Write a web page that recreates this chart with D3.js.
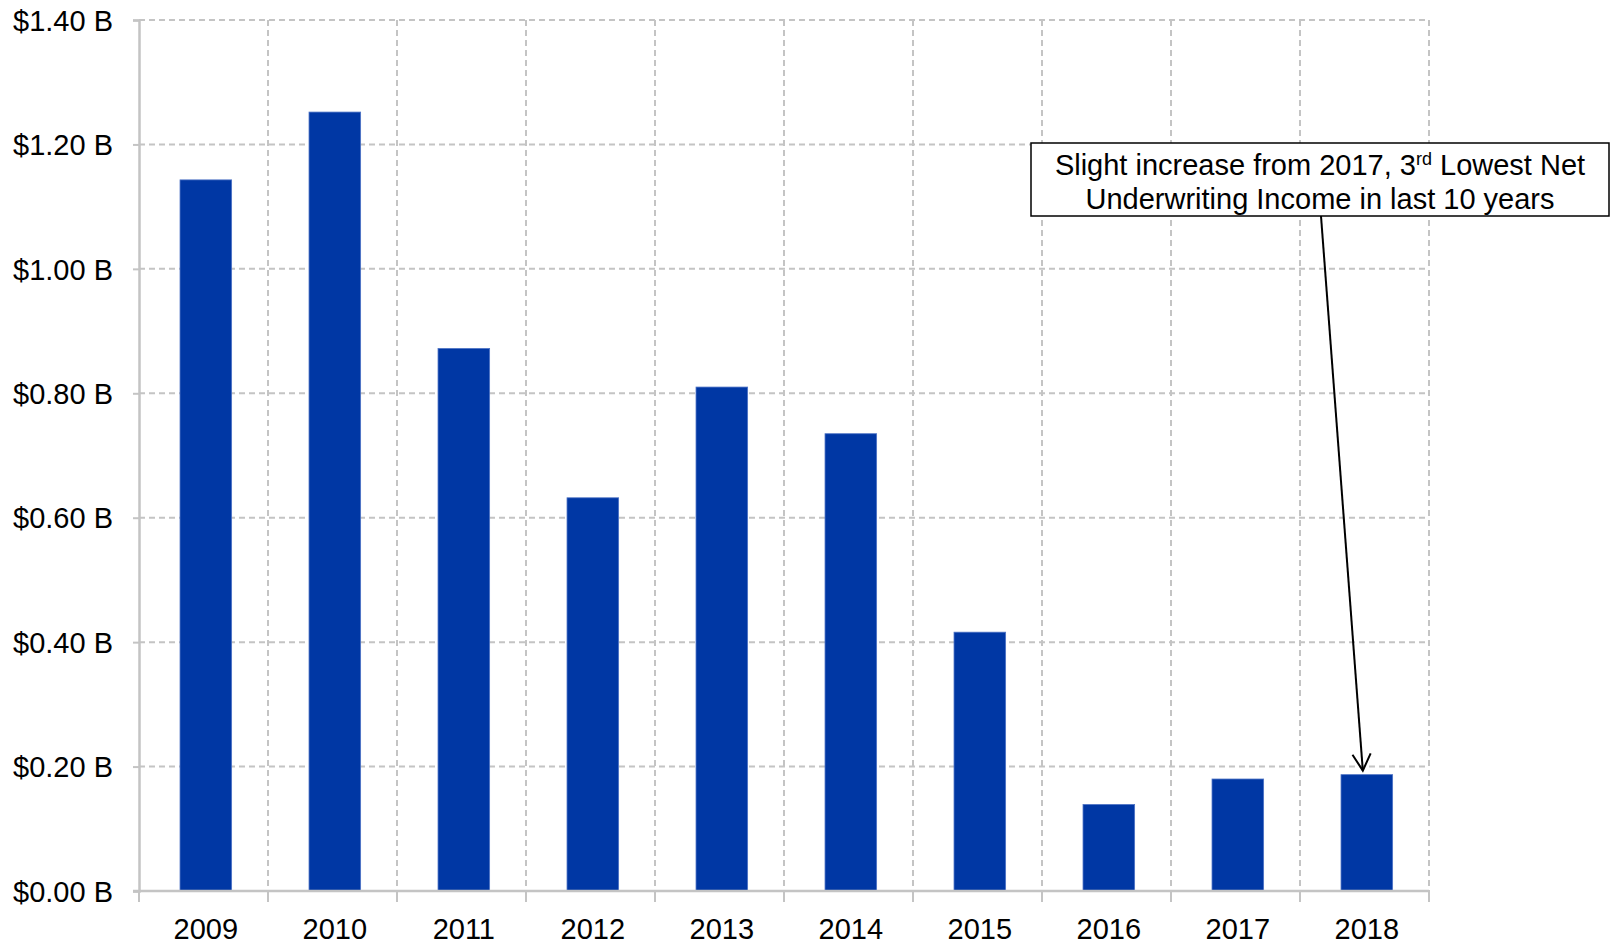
<!DOCTYPE html>
<html>
<head>
<meta charset="utf-8">
<script src="https://cdn.jsdelivr.net/npm/d3@7"></script>
<style>
  body { margin: 0; background: #fff; }
  text { font-family: "Liberation Sans", Arial, sans-serif; fill: #000; }
</style>
</head>
<body>
<svg id="chart"></svg>
<script>
const years = ["2009", "2010", "2011", "2012", "2013", "2014", "2015", "2016", "2017", "2018"];
const income = [1.143, 1.252, 0.872, 0.632, 0.810, 0.735, 0.416, 0.139, 0.180, 0.187];
const yTicks = [0, 0.2, 0.4, 0.6, 0.8, 1.0, 1.2, 1.4];
const noteLines = ["Slight increase from 2017, 3", "Underwriting Income in last 10 years"];

const margin = { top: 20, right: 183, bottom: 54, left: 139 };
const width = 1612 - margin.left - margin.right;
const height = 945 - margin.top - margin.bottom;

const svg = d3.select("#chart")
  .attr("width", 1612)
  .attr("height", 945)
  .append("g")
  .attr("transform", "translate(" + margin.left + "," + margin.top + ")");

const x = d3.scaleBand().domain(years).range([0, width])
  .paddingInner(0.6).paddingOuter(0.3).align(0.53);
const xEdge = d3.scaleLinear().domain([0, years.length]).range([0, width]);
const y = d3.scaleLinear().domain([0, 1.4]).range([height, 0]);

// horizontal dashed grid
svg.append("g")
  .selectAll("line")
  .data(yTicks.slice(1))
  .enter().append("line")
  .attr("x1", 0).attr("x2", width)
  .attr("y1", d => y(d)).attr("y2", d => y(d))
  .attr("stroke", "#c4c4c4").attr("stroke-width", 2)
  .attr("stroke-dasharray", "6,4");

// vertical dashed grid at category boundaries
svg.append("g")
  .selectAll("line")
  .data(d3.range(1, years.length + 1))
  .enter().append("line")
  .attr("x1", d => xEdge(d)).attr("x2", d => xEdge(d))
  .attr("y1", 0).attr("y2", height)
  .attr("stroke", "#c4c4c4").attr("stroke-width", 2)
  .attr("stroke-dasharray", "6,4");

// bars
svg.selectAll(".bar")
  .data(income)
  .enter().append("rect")
  .attr("class", "bar")
  .attr("x", (d, i) => x(years[i]))
  .attr("width", x.bandwidth())
  .attr("y", d => y(d))
  .attr("height", d => height - y(d))
  .attr("fill", "#0037a4")
  .attr("stroke", "#4c72c4")
  .attr("stroke-width", 0.8);

// y axis
const yAxis = svg.append("g")
  .call(d3.axisLeft(y).tickValues(yTicks).tickSize(6).tickPadding(20)
    .tickFormat(d => "$" + d.toFixed(2) + " B"));
yAxis.select(".domain").attr("stroke", "#c4c4c4").attr("stroke-width", 2.5);
yAxis.selectAll(".tick line").attr("stroke", "#c4c4c4").attr("stroke-width", 2);
yAxis.selectAll("text").attr("font-size", 29).attr("dy", "0.35em")
  .style("font-family", "'Liberation Sans', Arial, sans-serif");

// x axis
const xAxis = svg.append("g")
  .attr("transform", "translate(0," + height + ")")
  .call(d3.axisBottom(x).tickSize(0).tickPadding(27));
xAxis.select(".domain").attr("stroke", "#c4c4c4").attr("stroke-width", 2.5).attr("d", "M-6,0H" + width);
xAxis.selectAll("text").attr("font-size", 29)
  .style("font-family", "'Liberation Sans', Arial, sans-serif");
xAxis.append("g")
  .selectAll("line")
  .data(d3.range(0, years.length + 1))
  .enter().append("line")
  .attr("x1", d => xEdge(d)).attr("x2", d => xEdge(d))
  .attr("y1", 0).attr("y2", 11)
  .attr("stroke", "#c4c4c4").attr("stroke-width", 2);

// annotation
const boxX = 892, boxY = 123, boxW = 578, boxH = 73;
const note = svg.append("g");
note.append("rect")
  .attr("x", boxX).attr("y", boxY).attr("width", boxW).attr("height", boxH)
  .attr("fill", "#fff").attr("stroke", "#000").attr("stroke-width", 1.5);
const cx = boxX + boxW / 2;
const t1 = note.append("text").attr("x", cx).attr("y", boxY + 32)
  .attr("text-anchor", "middle").attr("font-size", 29);
t1.append("tspan").text(noteLines[0]);
t1.append("tspan").text("rd").attr("font-size", 18).attr("dy", -10);
t1.append("tspan").text(" Lowest Net").attr("dy", 10);
note.append("text").attr("x", cx).attr("y", boxY + 66)
  .attr("text-anchor", "middle").attr("font-size", 29).text(noteLines[1]);

// arrow to 2018 bar
const last = years.length - 1;
const ax = x(years[last]) + x.bandwidth() / 2 - 4;
const ay = y(income[last]) - 4;
const sx = 1182;
const sy = boxY + boxH;
svg.append("line")
  .attr("x1", sx).attr("y1", sy).attr("x2", ax).attr("y2", ay)
  .attr("stroke", "#000").attr("stroke-width", 2);
const ang = Math.atan2(ay - sy, ax - sx);
const hl = 19, ha = 0.5;
svg.append("path")
  .attr("d", "M" + (ax - hl * Math.cos(ang - ha)) + "," + (ay - hl * Math.sin(ang - ha)) +
    "L" + ax + "," + ay +
    "L" + (ax - hl * Math.cos(ang + ha)) + "," + (ay - hl * Math.sin(ang + ha)))
  .attr("fill", "none").attr("stroke", "#000").attr("stroke-width", 2);
</script>
</body>
</html>
